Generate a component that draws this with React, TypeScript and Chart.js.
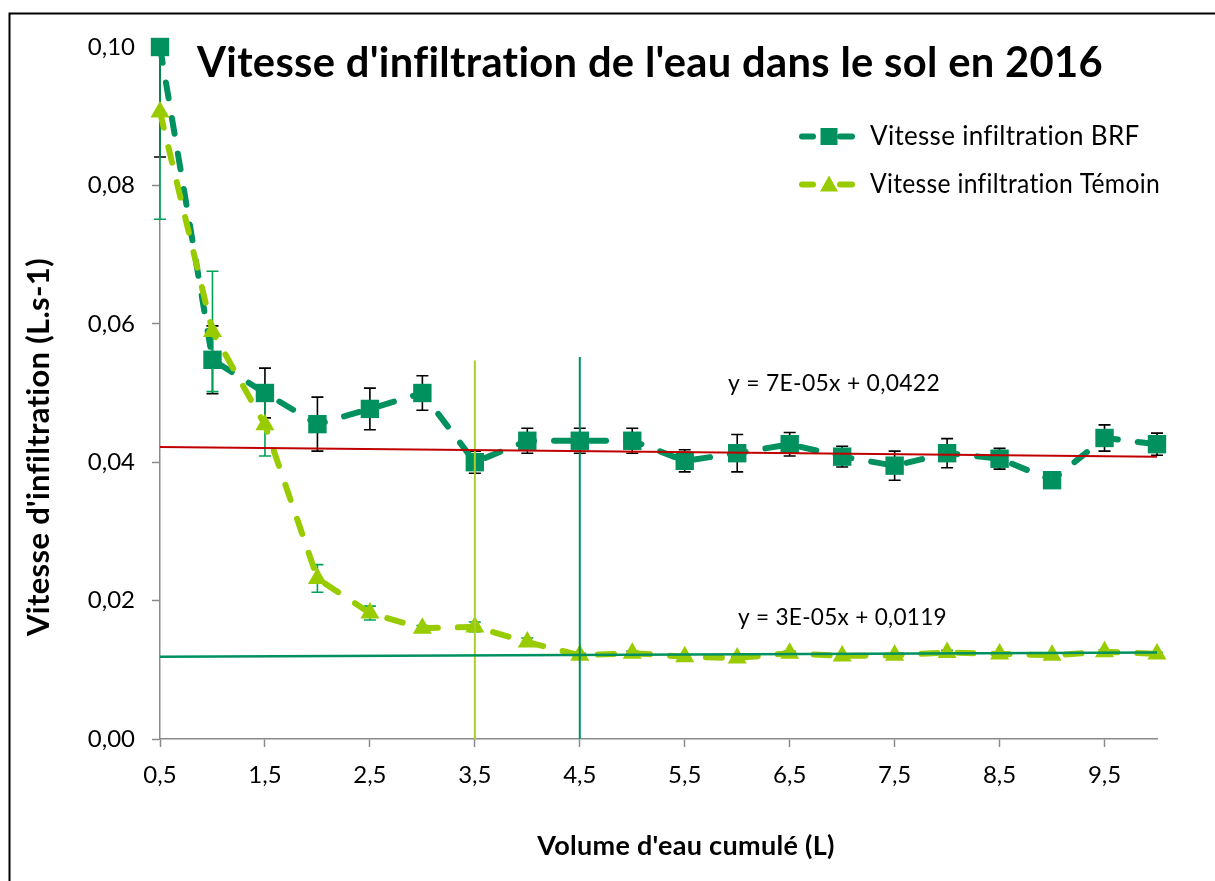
import React, { useEffect, useRef } from 'react';
import { Chart, registerables } from 'chart.js';

Chart.register(...registerables);

// ---- Data ----
const volumes = [0.5, 1, 1.5, 2, 2.5, 3, 3.5, 4, 4.5, 5, 5.5, 6, 6.5, 7, 7.5, 8, 8.5, 9, 9.5, 10];
const brfSpeed = [0.1, 0.0548, 0.05, 0.0455, 0.0477, 0.05, 0.04, 0.0431, 0.0431, 0.0431, 0.0402, 0.0413, 0.0426, 0.0408, 0.0395, 0.0413, 0.0405, 0.0374, 0.0435, 0.0426];
const brfError = [0.0159, 0.0049, 0.0036, 0.0039, 0.003, 0.0025, 0.0016, 0.0018, 0.0018, 0.0018, 0.0016, 0.0027, 0.0017, 0.0015, 0.0021, 0.0021, 0.0015, 0.0008, 0.0019, 0.0016];
const temoinSpeed = [0.0906, 0.0589, 0.0454, 0.0232, 0.0182, 0.016, 0.0162, 0.014, 0.0121, 0.0124, 0.0119, 0.0117, 0.0124, 0.012, 0.0121, 0.0125, 0.0123, 0.0121, 0.0126, 0.0123];
const temoinError = [0.0155, 0.0087, 0.0045, 0.002, 0.001, 0.0004, 0.0007, 0.0006, 0.0003, 0.0003, 0.0002, 0.0002, 0.0003, 0.0002, 0.0002, 0.0003, 0.0002, 0.0002, 0.0003, 0.0002];

const trendX = [0.5, 10];
const brfTrend = [0.0422, 0.0408];
const temoinTrend = [0.0119, 0.0125];

const markerLineX = [3.5, 4.5];
const markerLineTop = [0.0547, 0.0552];

const xTickValues = [0.5, 1.5, 2.5, 3.5, 4.5, 5.5, 6.5, 7.5, 8.5, 9.5];
const yMin = 0;
const yMax = 0.1;
const yStep = 0.02;

const chartTitle = "Vitesse d'infiltration de l'eau dans le sol en 2016";
const xTitle = "Volume d'eau cumulé (L)";
const yTitle = "Vitesse d'infiltration (L.s-1)";
const brfLabel = 'Vitesse infiltration BRF';
const temoinLabel = 'Vitesse infiltration Témoin';
const brfEquation = 'y = 7E-05x + 0,0422';
const temoinEquation = 'y = 3E-05x + 0,0119';

// ---- Styles ----
const FONT = 'Lato, "Open Sans", sans-serif';
const BRF_COLOR = '#00915E';
const TEMOIN_COLOR = '#99CC00';
const TEMOIN_ERR_COLOR = '#00A257';
const AXIS_COLOR = '#8A8A8A';
const LIGHT_LINE = '#A8D02C';
const RED = '#C00000';

const noLig = (ctx: any) => {
  try {
    ctx.letterSpacing = '0.3px';
  } catch (e) {
    /* ignore */
  }
};

const errorBarPlugin = {
  id: 'errorBars',
  beforeDatasetsDraw(chart: any) {
    const { ctx, chartArea, scales } = chart;
    const x = scales.x;
    const y = scales.y;
    const groups = [
      { values: brfSpeed, errors: brfError, color: '#000000' },
      { values: temoinSpeed, errors: temoinError, color: TEMOIN_ERR_COLOR },
    ];
    ctx.save();
    ctx.beginPath();
    ctx.rect(chartArea.left - 10, chartArea.top, chartArea.right - chartArea.left + 20, chartArea.bottom - chartArea.top);
    ctx.clip();
    groups.forEach((g) => {
      ctx.strokeStyle = g.color;
      ctx.lineWidth = 1.6;
      g.values.forEach((v, i) => {
        const px = x.getPixelForValue(volumes[i]);
        const top = y.getPixelForValue(v + g.errors[i]);
        const bot = y.getPixelForValue(v - g.errors[i]);
        ctx.beginPath();
        ctx.moveTo(px, top);
        ctx.lineTo(px, bot);
        ctx.moveTo(px - 6, top);
        ctx.lineTo(px + 6, top);
        ctx.moveTo(px - 6, bot);
        ctx.lineTo(px + 6, bot);
        ctx.stroke();
      });
    });
    ctx.restore();
  },
};

const decorPlugin = {
  id: 'decor',
  afterDraw(chart: any) {
    const { ctx } = chart;
    ctx.save();
    noLig(ctx);
    // frame
    ctx.strokeStyle = '#000';
    ctx.lineWidth = 2;
    ctx.strokeRect(9.5, 13.5, 1400, 1000);

    ctx.fillStyle = '#000';
    // title
    ctx.font = `bold 42px ${FONT}`;
    ctx.textAlign = 'left';
    ctx.textBaseline = 'alphabetic';
    ctx.fillText(chartTitle, 197, 77, 906);

    // axis titles
    ctx.font = `bold 27px ${FONT}`;
    ctx.textAlign = 'center';
    ctx.textBaseline = 'middle';
    ctx.fillText(xTitle, 686, 846, 298);
    ctx.save();
    ctx.translate(39, 447);
    ctx.rotate(-Math.PI / 2);
    ctx.font = `bold 31px ${FONT}`;
    ctx.fillText(yTitle, 0, 0, 404);
    ctx.restore();

    // equations
    ctx.font = `24px ${FONT}`;
    ctx.textAlign = 'left';
    ctx.textBaseline = 'middle';
    ctx.fillText(brfEquation, 728, 383, 212);
    ctx.fillText(temoinEquation, 738, 617, 209);

    // legend
    const rows = [
      { label: brfLabel, color: BRF_COLOR, y: 136.5, shape: 'rect' },
      { label: temoinLabel, color: TEMOIN_COLOR, y: 184.5, shape: 'triangle' },
    ];
    rows.forEach((r) => {
      ctx.strokeStyle = r.color;
      ctx.fillStyle = r.color;
      ctx.lineWidth = 6;
      ctx.lineCap = 'round';
      ctx.beginPath();
      ctx.moveTo(802, r.y);
      ctx.lineTo(813, r.y);
      ctx.moveTo(840, r.y);
      ctx.lineTo(852, r.y);
      ctx.stroke();
      if (r.shape === 'rect') {
        ctx.fillRect(820.5, r.y - 8.5, 17, 17);
      } else {
        ctx.beginPath();
        ctx.moveTo(829, r.y - 9);
        ctx.lineTo(838, r.y + 7);
        ctx.lineTo(820, r.y + 7);
        ctx.closePath();
        ctx.fill();
      }
      ctx.fillStyle = '#000';
      ctx.font = `26px ${FONT}`;
      ctx.textAlign = 'left';
      ctx.textBaseline = 'middle';
      ctx.fillText(r.label, 870, r.y, 290);
    });
    ctx.restore();
  },
};

export default function App() {
  const canvasRef = useRef<HTMLCanvasElement | null>(null);

  useEffect(() => {
    if (!canvasRef.current) return;
    const tickFont = { family: FONT, size: 24 };
    const chart = new Chart(canvasRef.current, {
      type: 'line',
      data: {
        datasets: [
          {
            label: 'trend BRF',
            data: trendX.map((x, i) => ({ x, y: brfTrend[i] })),
            borderColor: RED,
            borderWidth: 2,
            pointRadius: 0,
            order: 1,
          },
          {
            label: 'trend Témoin',
            data: trendX.map((x, i) => ({ x, y: temoinTrend[i] })),
            borderColor: BRF_COLOR,
            borderWidth: 2.5,
            pointRadius: 0,
            order: 2,
          },
          {
            label: 'repère 3,5',
            data: [{ x: markerLineX[0], y: yMin }, { x: markerLineX[0], y: markerLineTop[0] }],
            borderColor: LIGHT_LINE,
            borderWidth: 2,
            pointRadius: 0,
            order: 3,
          },
          {
            label: 'repère 4,5',
            data: [{ x: markerLineX[1], y: yMin }, { x: markerLineX[1], y: markerLineTop[1] }],
            borderColor: BRF_COLOR,
            borderWidth: 2,
            pointRadius: 0,
            order: 4,
          },
          {
            label: temoinLabel,
            data: volumes.map((x, i) => ({ x, y: temoinSpeed[i] })),
            borderColor: TEMOIN_COLOR,
            backgroundColor: TEMOIN_COLOR,
            borderWidth: 6,
            borderDash: [16, 20],
            borderCapStyle: 'round',
            borderJoinStyle: 'round',
            pointStyle: 'triangle',
            pointRadius: 11,
            pointBorderWidth: 0,
            pointBackgroundColor: TEMOIN_COLOR,
            clip: false,
            order: 10,
          },
          {
            label: brfLabel,
            data: volumes.map((x, i) => ({ x, y: brfSpeed[i] })),
            borderColor: BRF_COLOR,
            backgroundColor: BRF_COLOR,
            borderWidth: 6,
            borderDash: [16, 20],
            borderCapStyle: 'round',
            borderJoinStyle: 'round',
            pointStyle: 'rect',
            pointRadius: 13,
            pointBorderWidth: 0,
            pointBackgroundColor: BRF_COLOR,
            clip: false,
            order: 20,
          },
        ],
      },
      options: {
        responsive: false,
        animation: false,
        layout: { padding: { left: 0, right: 58, top: 47, bottom: 0 } },
        plugins: {
          legend: { display: false },
          tooltip: { enabled: false },
          title: { display: false },
        },
        scales: {
          x: {
            type: 'linear',
            min: 0.5,
            max: 10,
            afterBuildTicks: (s: any) => {
              s.ticks = xTickValues.map((v) => ({ value: v }));
            },
            afterFit: (s: any) => {
              s.height = 142;
            },
            ticks: {
              font: tickFont,
              color: '#000',
              padding: 14,
              maxRotation: 0,
              autoSkip: false,
              callback: (v: any) => String(v).replace('.', ','),
            },
            grid: {
              drawOnChartArea: false,
              drawTicks: true,
              tickLength: 8,
              tickColor: AXIS_COLOR,
              tickWidth: 1.5,
            },
            border: { display: true, color: AXIS_COLOR, width: 1.5 },
          },
          y: {
            type: 'linear',
            min: yMin,
            max: yMax,
            afterFit: (s: any) => {
              s.width = 160;
            },
            ticks: {
              stepSize: yStep,
              font: tickFont,
              color: '#000',
              padding: 17,
              callback: (v: any) => Number(v).toFixed(2).replace('.', ','),
            },
            grid: {
              drawOnChartArea: false,
              drawTicks: true,
              tickLength: 8,
              tickColor: AXIS_COLOR,
              tickWidth: 1.5,
            },
            border: { display: true, color: AXIS_COLOR, width: 1.5 },
          },
        },
      },
      plugins: [errorBarPlugin, decorPlugin],
    } as any);
    return () => chart.destroy();
  }, []);

  return (
    <div style={{ position: 'fixed', left: 0, top: 0, width: 1215, height: 881, background: '#fff' }}>
      <canvas ref={canvasRef} width={1215} height={881} style={{ display: 'block' }} />
    </div>
  );
}
